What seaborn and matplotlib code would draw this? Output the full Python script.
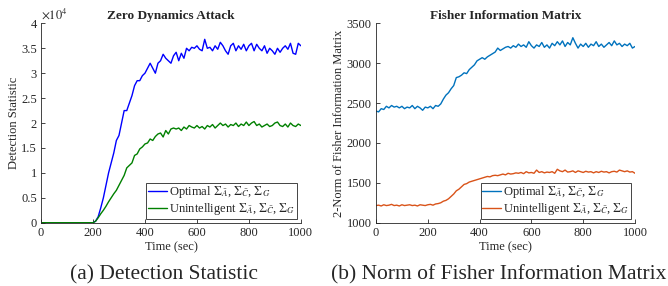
import numpy as np
import pandas as pd
import matplotlib
matplotlib.use("Agg")
import matplotlib.pyplot as plt
import seaborn as sns
from matplotlib.ticker import FuncFormatter

sns.set_theme(style="ticks")
plt.rcParams["font.family"] = ["Liberation Serif", "DejaVu Serif"]
plt.rcParams["mathtext.fontset"] = "stix"
plt.rcParams["xtick.direction"] = "in"
plt.rcParams["ytick.direction"] = "in"

_TICK_SIZE = 9
_LABEL_SIZE = 9
_INK = "#262626"

# time axis (sec)
time_sec = list(range(0, 1001, 10))

# detection statistic, in units of 1e4
det_optimal = [0.0] * 21 + [
    0.03, 0.12, 0.30, 0.50, 0.75, 1.00, 1.20, 1.40, 1.65, 1.75,
    2.00, 2.25, 2.25, 2.40, 2.55, 2.75, 2.85, 2.85, 2.95, 3.00,
    3.10, 3.20, 3.10, 3.00, 3.20, 3.25, 3.38, 3.30, 3.25, 3.20,
    3.35, 3.42, 3.25, 3.40, 3.30, 3.50, 3.45, 3.52, 3.50, 3.55,
    3.48, 3.45, 3.68, 3.50, 3.52, 3.45, 3.55, 3.48, 3.62, 3.55,
    3.45, 3.38, 3.55, 3.60, 3.45, 3.55, 3.48, 3.58, 3.45, 3.55,
    3.60, 3.45, 3.58, 3.50, 3.45, 3.55, 3.40, 3.50, 3.45, 3.38,
    3.50, 3.42, 3.50, 3.55, 3.48, 3.60, 3.40, 3.38, 3.60, 3.55,
]
det_unintel = [0.0] * 21 + [
    0.03, 0.10, 0.18, 0.25, 0.33, 0.42, 0.50, 0.58, 0.65, 0.75,
    0.85, 0.95, 1.10, 1.15, 1.20, 1.35, 1.38, 1.48, 1.52, 1.58,
    1.60, 1.68, 1.65, 1.73, 1.78, 1.80, 1.72, 1.85, 1.78, 1.88,
    1.90, 1.88, 1.90, 1.85, 1.92, 1.88, 1.95, 1.92, 1.90, 1.95,
    1.90, 1.93, 1.88, 1.95, 1.92, 1.97, 1.90, 1.95, 2.00, 1.95,
    1.98, 1.92, 1.97, 1.95, 2.00, 1.93, 1.98, 1.95, 2.02, 1.95,
    2.00, 2.03, 1.95, 1.98, 1.92, 1.95, 1.98, 1.93, 1.95, 2.00,
    2.02, 1.95, 1.93, 1.98, 1.92, 2.00, 1.95, 1.93, 1.98, 1.95,
]
DET_SCALE = 1e4

# 2-norm of Fisher information matrix
fim_optimal = [
    2400, 2390, 2430, 2420, 2460, 2440, 2470, 2450, 2460, 2440,
    2460, 2430, 2450, 2440, 2470, 2430, 2460, 2440, 2410, 2450,
    2440, 2460, 2430, 2470, 2460, 2490, 2550, 2600, 2630, 2680,
    2720, 2820, 2830, 2850, 2880, 2870, 2920, 2950, 2980, 3030,
    3050, 3070, 3050, 3080, 3100, 3120, 3140, 3190, 3160, 3180,
    3200, 3210, 3190, 3220, 3200, 3240, 3210, 3230, 3200, 3270,
    3220, 3190, 3230, 3210, 3260, 3200, 3230, 3190, 3250, 3220,
    3270, 3230, 3280, 3210, 3260, 3230, 3320, 3250, 3190, 3240,
    3210, 3250, 3200, 3240, 3220, 3270, 3210, 3240, 3200, 3230,
    3260, 3220, 3280, 3230, 3250, 3210, 3240, 3220, 3250, 3190,
    3210,
]
fim_unintel = [
    1215, 1220, 1210, 1225, 1215, 1220, 1230, 1215, 1220, 1210,
    1225, 1215, 1220, 1225, 1215, 1220, 1210, 1225, 1220, 1215,
    1225, 1230, 1220, 1235, 1240, 1250, 1270, 1280, 1300, 1330,
    1360, 1400, 1420, 1450, 1480, 1490, 1510, 1520, 1530, 1540,
    1550, 1560, 1570, 1580, 1575, 1590, 1595, 1590, 1600, 1610,
    1600, 1620, 1610, 1615, 1625, 1620, 1630, 1615, 1640, 1625,
    1630, 1620, 1660, 1630, 1640, 1625, 1635, 1630, 1640, 1620,
    1670, 1650, 1640, 1660, 1635, 1640, 1650, 1630, 1650, 1640,
    1630, 1645, 1635, 1640, 1625, 1640, 1630, 1645, 1635, 1640,
    1625, 1640, 1645, 1635, 1660, 1650, 1640, 1650, 1635, 1640,
    1620,
]

_sigmas = r"$\Sigma_{\bar{A}}$, $\Sigma_{\bar{C}}$, $\Sigma_G$"
lbl_opt = "Optimal " + _sigmas
lbl_uni = "Unintelligent " + _sigmas

det_df = pd.concat([
    pd.DataFrame({"Time": time_sec, "Value": np.array(det_optimal) * DET_SCALE, "Strategy": lbl_opt}),
    pd.DataFrame({"Time": time_sec, "Value": np.array(det_unintel) * DET_SCALE, "Strategy": lbl_uni}),
], ignore_index=True)
fim_df = pd.concat([
    pd.DataFrame({"Time": time_sec, "Value": fim_optimal, "Strategy": lbl_opt}),
    pd.DataFrame({"Time": time_sec, "Value": fim_unintel, "Strategy": lbl_uni}),
], ignore_index=True)

fig = plt.figure(figsize=(6.68, 2.86), dpi=100)
ax1 = fig.add_axes([0.0614, 0.2213, 0.389, 0.697])
ax2 = fig.add_axes([0.5629, 0.2213, 0.3877, 0.697])


def _style_axis(ax, title, ylabel):
    ax.set_xlim(0, 1000)
    ax.set_xticks(range(0, 1001, 200))
    ax.set_title(title, fontsize=9.5, fontweight="bold", pad=3)
    ax.set_xlabel("Time (sec)", fontsize=_LABEL_SIZE, labelpad=2)
    ax.set_ylabel(ylabel, fontsize=_LABEL_SIZE, labelpad=1)
    ax.tick_params(labelsize=_TICK_SIZE, length=3, width=0.6, pad=3, colors=_INK)
    for side in ("left", "bottom"):
        ax.spines[side].set_linewidth(0.6)
        ax.spines[side].set_color(_INK)
    sns.despine(ax=ax)
    leg = ax.legend(
        loc="lower right",
        fontsize=9,
        frameon=True,
        fancybox=False,
        edgecolor=_INK,
        framealpha=1,
        handlelength=1.5,
        handletextpad=0.15,
        borderpad=0.15,
        labelspacing=0.05,
        borderaxespad=0.3,
    )
    leg.get_frame().set_linewidth(0.6)


sns.lineplot(
    data=det_df, x="Time", y="Value", hue="Strategy",
    palette={lbl_opt: "#0000FF", lbl_uni: "#008000"},
    linewidth=1.0, ax=ax1,
)
ax1.set_ylim(0, 40000)
ax1.set_yticks(np.arange(0, 40001, 5000))
ax1.yaxis.set_major_formatter(FuncFormatter(lambda v, _: f"{v / DET_SCALE:g}"))
ax1.text(0.0, 1.01, r"$\times 10^4$", transform=ax1.transAxes, fontsize=9,
         ha="left", va="bottom", color=_INK)
_style_axis(ax1, "Zero Dynamics Attack", "Detection Statistic")

sns.lineplot(
    data=fim_df, x="Time", y="Value", hue="Strategy",
    palette={lbl_opt: "#0072BD", lbl_uni: "#D95319"},
    linewidth=1.0, ax=ax2,
)
ax2.set_ylim(1000, 3500)
ax2.set_yticks(range(1000, 3501, 500))
_style_axis(ax2, "Fisher Information Matrix", "2-Norm of Fisher Information Matrix")

fig.text(0.2455, 0.04, "(a) Detection Statistic", fontsize=15.5, ha="center", va="center")
fig.text(0.747, 0.04, "(b) Norm of Fisher Information Matrix", fontsize=15.5, ha="center", va="center")

fig.savefig("out.png", dpi=100)
